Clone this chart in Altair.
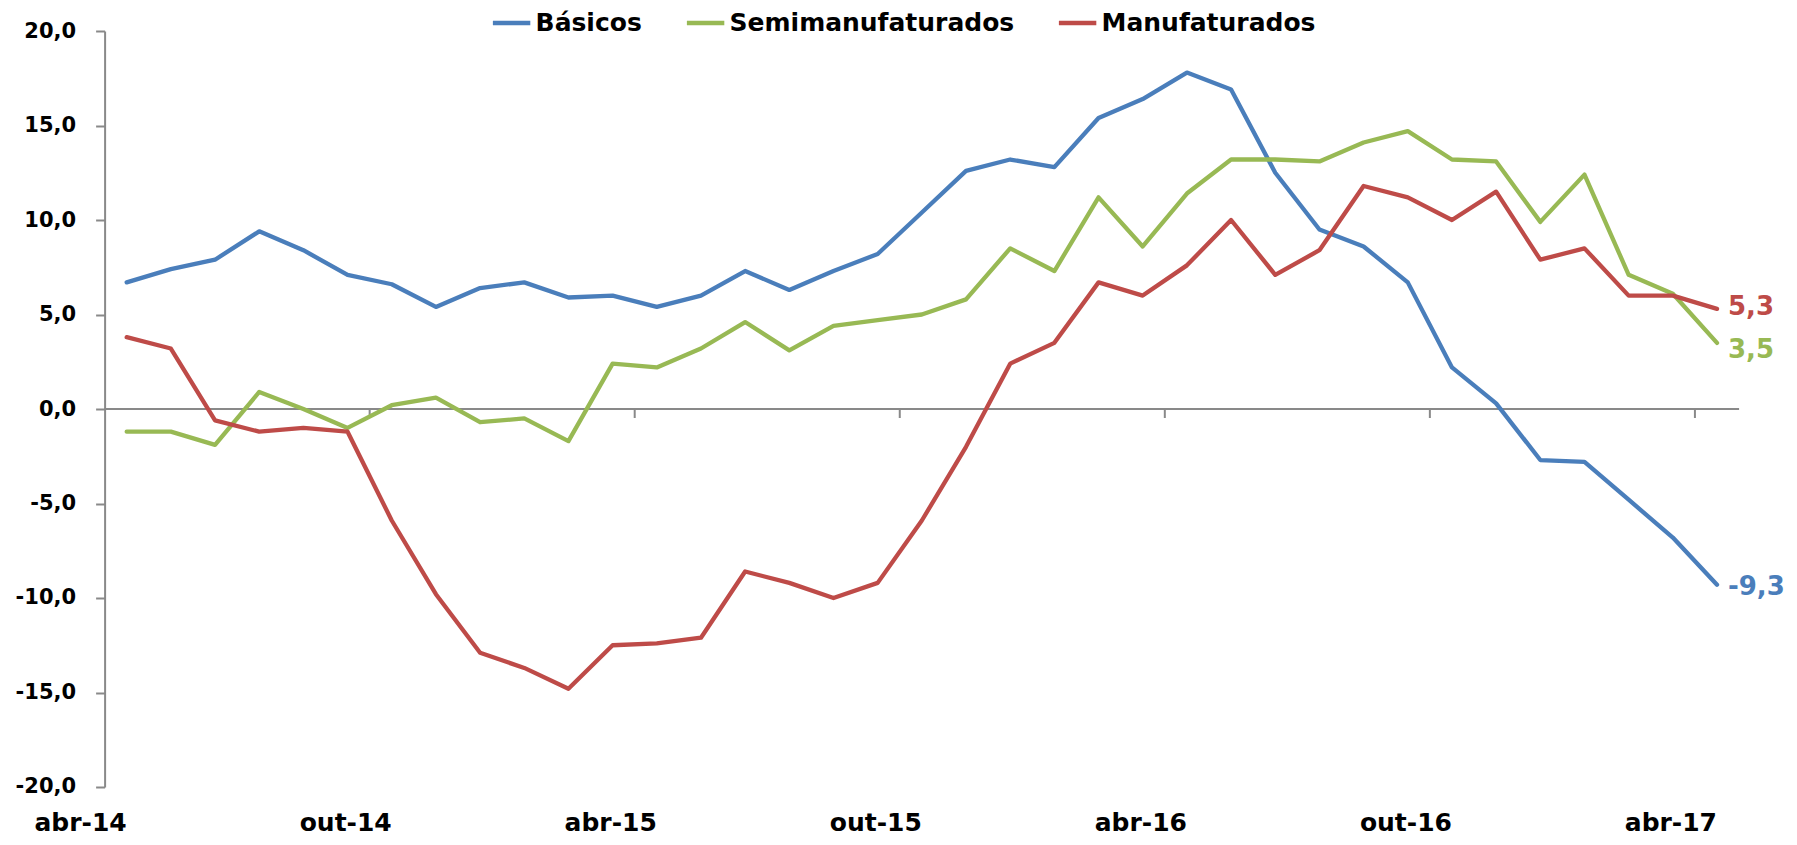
import altair as alt
import pandas as pd

meses = [
    "abr-14", "mai-14", "jun-14", "jul-14", "ago-14", "set-14", "out-14", "nov-14", "dez-14",
    "jan-15", "fev-15", "mar-15", "abr-15", "mai-15", "jun-15", "jul-15", "ago-15", "set-15",
    "out-15", "nov-15", "dez-15", "jan-16", "fev-16", "mar-16", "abr-16", "mai-16", "jun-16",
    "jul-16", "ago-16", "set-16", "out-16", "nov-16", "dez-16", "jan-17", "fev-17", "mar-17",
    "abr-17",
]

basicos = [6.7, 7.4, 7.9, 9.4, 8.4, 7.1, 6.6, 5.4, 6.4, 6.7, 5.9, 6.0, 5.4, 6.0, 7.3, 6.3,
           7.3, 8.2, 10.4, 12.6, 13.2, 12.8, 15.4, 16.4, 17.8, 16.9, 12.5, 9.5, 8.6, 6.7,
           2.2, 0.3, -2.7, -2.8, -4.8, -6.8, -9.3]
semimanufaturados = [-1.2, -1.2, -1.9, 0.9, 0.0, -1.0, 0.2, 0.6, -0.7, -0.5, -1.7, 2.4, 2.2,
                     3.2, 4.6, 3.1, 4.4, 4.7, 5.0, 5.8, 8.5, 7.3, 11.2, 8.6, 11.4, 13.2, 13.2,
                     13.1, 14.1, 14.7, 13.2, 13.1, 9.9, 12.4, 7.1, 6.1, 3.5]
manufaturados = [3.8, 3.2, -0.6, -1.2, -1.0, -1.2, -5.9, -9.8, -12.9, -13.7, -14.8, -12.5,
                 -12.4, -12.1, -8.6, -9.2, -10.0, -9.2, -5.9, -2.0, 2.4, 3.5, 6.7, 6.0, 7.6,
                 10.0, 7.1, 8.4, 11.8, 11.2, 10.0, 11.5, 7.9, 8.5, 6.0, 6.0, 5.3]

series = ["Básicos", "Semimanufaturados", "Manufaturados"]
cores = ["#4A7EBB", "#98B954", "#BE4B48"]
y_ticks = [-20, -15, -10, -5, 0, 5, 10, 15, 20]

rows = []
for nome, vals in zip(series, [basicos, semimanufaturados, manufaturados]):
    for m, v in zip(meses, vals):
        rows.append({"mes": m, "serie": nome, "valor": v})
df = pd.DataFrame(rows)

df_last = df[df["mes"] == meses[-1]].copy()
df_ticks = pd.DataFrame({"mes": meses[6::6]})
df_zero = pd.DataFrame({"valor": [0]})

FONT = "DejaVu Sans"
GRAY = "#898989"
W = 1634.5
H = 756

FMT = "replace(replace(format({v}, '.1f'), '.', ','), '\u2212', '-')"

x_scale = alt.Scale(paddingInner=0, paddingOuter=0)
x_enc = alt.X(
    "mes:O", sort=meses, scale=x_scale, title=None,
    axis=alt.Axis(
        values=meses[::6], domain=False, ticks=False, labelAngle=0,
        labelFont=FONT, labelFontSize=25, labelFontWeight="bold", labelColor="black",
        labelPadding=44, labelBaseline="alphabetic",
    ),
)
y_enc = alt.Y(
    "valor:Q", title=None,
    scale=alt.Scale(domain=[-20, 20], nice=False, zero=False),
    axis=alt.Axis(
        values=y_ticks, grid=False,
        labelExpr=FMT.format(v="datum.value"),
        domainColor=GRAY, domainWidth=2, tickColor=GRAY, tickWidth=2, tickSize=9,
        labelPadding=20, labelFont=FONT, labelFontSize=21, labelFontWeight="bold",
        labelColor="black",
    ),
)

zero = alt.Chart(df_zero).mark_rule(color=GRAY, strokeWidth=2).encode(y=alt.Y("valor:Q"))

ticks = alt.Chart(df_ticks).mark_rule(color=GRAY, strokeWidth=2, y2Offset=9).encode(
    x=alt.X("mes:O", sort=meses, bandPosition=0),
    y=alt.datum(0),
    y2=alt.datum(0),
)

lines = alt.Chart(df).mark_line(strokeWidth=4.3, strokeJoin="round", strokeCap="round").encode(
    x=x_enc,
    y=y_enc,
    color=alt.Color(
        "serie:N", sort=series,
        scale=alt.Scale(domain=series, range=cores),
        legend=alt.Legend(
            title=None, orient="none", legendX=386, legendY=-29, direction="horizontal",
            symbolType="stroke", symbolSize=1400, symbolStrokeWidth=4.5,
            labelFont=FONT, labelFontSize=25, labelFontWeight="bold", labelColor="black",
            columnPadding=35, labelOffset=3, labelLimit=0,
        ),
    ),
)

label_style = {
    "Básicos": (11, 2),
    "Semimanufaturados": (11, 7),
    "Manufaturados": (11, -2),
}
texts = []
for nome, cor in zip(series, cores):
    dx, dy = label_style[nome]
    t = alt.Chart(df_last[df_last["serie"] == nome]).transform_calculate(
        rotulo=FMT.format(v="datum.valor")
    ).mark_text(
        align="left", baseline="middle", dx=dx, dy=dy, font=FONT, fontSize=26,
        fontWeight="bold", color=cor,
    ).encode(
        x=alt.X("mes:O", sort=meses),
        y=alt.Y("valor:Q"),
        text="rotulo:N",
    )
    texts.append(t)

chart = alt.layer(zero, ticks, lines, *texts).properties(
    width=W, height=H,
    padding={"left": 96.6, "top": 23, "right": 49, "bottom": 58},
    autosize=alt.AutoSizeParams(type="none"),
    background="white",
).configure_view(stroke=None)

chart.save("out.html", embed_options={"renderer": "svg", "actions": False})
